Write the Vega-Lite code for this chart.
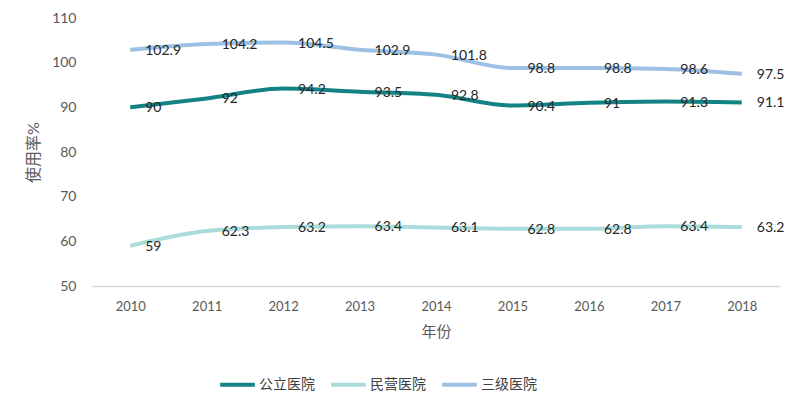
{
  "$schema": "https://vega.github.io/schema/vega-lite/v6.json",
  "autosize": {"type": "none"},
  "width": 688,
  "height": 268,
  "padding": {"left": 92, "top": 18, "right": 20, "bottom": 125},
  "background": "white",
  "config": {
    "view": {"stroke": null},
    "font": "Lato, Noto Sans CJK SC"
  },
  "data": {
    "values": [
      {"year": "2010", "type": "公立医院", "value": 90},
      {"year": "2011", "type": "公立医院", "value": 92},
      {"year": "2012", "type": "公立医院", "value": 94.2},
      {"year": "2013", "type": "公立医院", "value": 93.5},
      {"year": "2014", "type": "公立医院", "value": 92.8},
      {"year": "2015", "type": "公立医院", "value": 90.4},
      {"year": "2016", "type": "公立医院", "value": 91},
      {"year": "2017", "type": "公立医院", "value": 91.3},
      {"year": "2018", "type": "公立医院", "value": 91.1},
      {"year": "2010", "type": "民营医院", "value": 59},
      {"year": "2011", "type": "民营医院", "value": 62.3},
      {"year": "2012", "type": "民营医院", "value": 63.2},
      {"year": "2013", "type": "民营医院", "value": 63.4},
      {"year": "2014", "type": "民营医院", "value": 63.1},
      {"year": "2015", "type": "民营医院", "value": 62.8},
      {"year": "2016", "type": "民营医院", "value": 62.8},
      {"year": "2017", "type": "民营医院", "value": 63.4},
      {"year": "2018", "type": "民营医院", "value": 63.2},
      {"year": "2010", "type": "三级医院", "value": 102.9},
      {"year": "2011", "type": "三级医院", "value": 104.2},
      {"year": "2012", "type": "三级医院", "value": 104.5},
      {"year": "2013", "type": "三级医院", "value": 102.9},
      {"year": "2014", "type": "三级医院", "value": 101.8},
      {"year": "2015", "type": "三级医院", "value": 98.8},
      {"year": "2016", "type": "三级医院", "value": 98.8},
      {"year": "2017", "type": "三级医院", "value": 98.6},
      {"year": "2018", "type": "三级医院", "value": 97.5}
    ]
  },
  "encoding": {
    "x": {
      "field": "year", "type": "ordinal",
      "scale": {"type": "point", "padding": 0.5},
      "axis": {
        "title": "年份", "titleFontSize": 15, "titleFontWeight": "normal", "titleColor": "#595959", "titlePadding": 11,
        "labelAngle": 0, "labelFontSize": 13, "labelColor": "#595959", "labelPadding": 14,
        "ticks": false, "domainColor": "#d9d9d9", "domainWidth": 1.5
      }
    },
    "y": {
      "field": "value", "type": "quantitative",
      "scale": {"domain": [50, 110], "nice": false, "zero": false},
      "axis": {
        "title": "使用率%", "titleFontSize": 16, "titleFontWeight": "normal", "titleColor": "#595959", "titlePadding": 10,
        "values": [50, 60, 70, 80, 90, 100, 110],
        "labelFontSize": 14, "labelColor": "#595959", "labelPadding": 16,
        "ticks": false, "domain": false, "grid": false
      }
    },
    "color": {
      "field": "type", "type": "nominal",
      "scale": {"domain": ["公立医院", "民营医院", "三级医院"], "range": ["#148385", "#a9dcda", "#9dc1e4"]},
      "legend": {
        "title": null, "orient": "none", "direction": "horizontal",
        "legendX": 126, "legendY": 347,
        "symbolType": "stroke", "symbolSize": 1200, "symbolStrokeWidth": 4,
        "labelFontSize": 14, "labelColor": "#404040", "labelOffset": 2, "columnPadding": 8
      }
    }
  },
  "layer": [
    {
      "mark": {"type": "line", "strokeWidth": 4, "interpolate": "monotone"}
    },
    {
      "mark": {"type": "text", "align": "left", "baseline": "middle", "dx": 15, "dy": 1, "fontSize": 14, "color": "#262626"},
      "encoding": {
        "text": {"field": "value", "type": "quantitative"},
        "color": {"value": "#262626"}
      }
    }
  ]
}
